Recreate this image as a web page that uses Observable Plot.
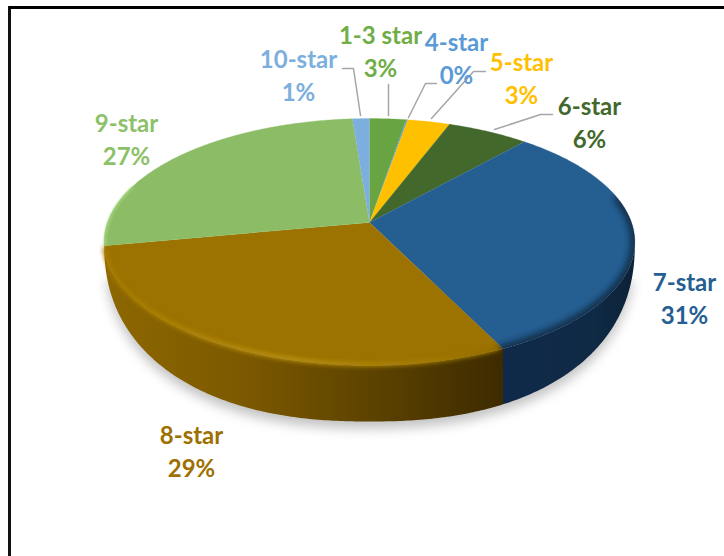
<!DOCTYPE html>
<html>
<head>
<meta charset="utf-8">
<style>html,body{margin:0;padding:0;background:#fff}svg{display:block}</style>
<script src="https://cdn.jsdelivr.net/npm/d3@7"></script>
<script src="https://cdn.jsdelivr.net/npm/@observablehq/plot@0.6"></script>
</head>
<body>
<script>
// Data
const categories = ["1-3 star", "4-star", "5-star", "6-star", "7-star", "8-star", "9-star", "10-star"];
const shares = [2.6, 0.1, 3.0, 5.8, 31.3, 29.2, 26.8, 1.2];

// Styles and layout
const topColors = ["#68a542", "#5b9bd5", "#ffc000", "#43682b", "#255e91", "#9c7200", "#8cbd66", "#7cafdd"];
const labelColors = ["#6fae47", "#5b9bd5", "#ffc000", "#43682b", "#255e91", "#9e7000", "#8cc168", "#7cafdd"];
const labelX = [380, 456, 521, 589, 684, 191, 126, 298];
const labelY = [36, 43, 63, 107, 283, 436, 124, 60];
const lineGap = 32.5;
const leaders = [
  [[342, 68], [353, 68], [360, 115]],
  [[388, 84], [388, 115]],
  [[436, 83], [425, 83], [408, 117]],
  [[485, 71], [473, 71], [431, 118]],
  [[552, 114], [540, 114], [494, 129]]
];

// Perspective projection of a circular pie
const k = -0.158;
function rimTop(t) {
  const X = Math.sin(t), Y = -Math.cos(t), w = 1 + k * Y;
  return {x: 369 + 262 * X / w, y: 222 + 120.4 * Y / w};
}
// Lower outline of the wall, directly below each rim point
function rimLower(t) {
  const x = rimTop(t).x, n = 2.3;
  const u = Math.min(1, Math.abs(x - 369) / 265.4);
  return {x, y: 241 + 180 * Math.pow(1 - Math.pow(u, n), 1 / n)};
}
// Angles at which the projected rim reaches its right and left extremes
const rightmost = Math.acos(k), leftmost = 2 * Math.PI - rightmost;
const total = d3.sum(shares);
const cum = d3.cumsum(shares);
const slices = categories.map((c, i) => ({
  c, i,
  a0: (i ? cum[i - 1] : 0) / total * 2 * Math.PI,
  a1: cum[i] / total * 2 * Math.PI
}));
const arc = (a0, a1, f) => {
  const n = Math.max(2, Math.ceil((a1 - a0) / 0.01));
  return d3.range(n + 1).map(j => f(a0 + (a1 - a0) * j / n));
};
const topPath = s => [{x: 369, y: 222}, ...arc(s.a0, s.a1, rimTop)];
const band = (a0, a1, lower) => [...arc(a0, a1, rimTop), ...arc(a0, a1, lower).reverse()];
const effect = (id, clip) => (index, scales, values, dims, ctx, next) => {
  const g = next(index, scales, values, dims, ctx);
  g.setAttribute("filter", `url(#${id})`);
  if (clip) g.setAttribute("clip-path", `url(#${clip})`);
  return g;
};
const line = (pts, o) => Plot.line(pts, {x: "x", y: "y", ...o});

const labels = categories.map((c, i) => ({c, i, x: labelX[i], y: labelY[i], pct: Math.round(shares[i]) + "%", color: labelColors[i]}));
const blue = slices[4], brown = slices[5];

const chart = Plot.plot({
  width: 724, height: 556,
  marginTop: 0, marginRight: 0, marginBottom: 0, marginLeft: 0,
  x: {domain: [0, 724], range: [0, 724], axis: null},
  y: {domain: [0, 556], range: [0, 556], axis: null},
  color: {type: "identity"},
  style: {background: "#fff"},
  marks: [
    // frame
    Plot.ruleX([9], {y1: 6, y2: 556, stroke: "#111", strokeWidth: 3}),
    Plot.ruleY([7], {x1: 9, x2: 724, stroke: "#000", strokeWidth: 3}),
    // shadow
    line(arc(rightmost + 0.12, leftmost - 0.12, t => { const p = rimLower(t); return {x: p.x, y: p.y + 7}; }),
      {fill: "#000", fillOpacity: 0.24, stroke: "none", render: effect("b6")}),
    // sides: only the 7-star and 8-star walls face the viewer
    line(band(rightmost, blue.a1, rimLower), {fill: "url(#sideBlue)", stroke: "none"}),
    line(band(brown.a0, leftmost, rimLower), {fill: "url(#sideBrown)", stroke: "none"}),
    // top faces
    ...slices.map(s => line(topPath(s), {fill: topColors[s.i], stroke: topColors[s.i], strokeWidth: 0.3})),
    // bevel: dark on the 7-star rim, bright on the 8-star rim
    line(arc(blue.a0 + 0.65, blue.a1, rimTop),
      {stroke: "#0c2238", strokeOpacity: 0.9, strokeWidth: 8, render: effect("b3", "topClip")}),
    line(arc(brown.a0 + 0.02, brown.a1 - 0.03, t => {
      const p = rimTop(t); return {x: p.x, y: p.y - 1};
    }), {stroke: "url(#bevelBrown)", strokeWidth: 4, render: effect("b2")}),
    line(arc(slices[6].a0 + 0.01, slices[6].a0 + 0.5, t => {
      const p = rimTop(t); return {x: p.x + 1, y: p.y};
    }), {stroke: "#a4d67e", strokeWidth: 2, render: effect("b1")}),
    // leaders
    ...leaders.map(l => Plot.line(l, {x: d => d[0], y: d => d[1], stroke: "#a6a6a6", strokeWidth: 1.5})),
    // labels
    Plot.text(labels, {x: "x", y: "y", text: "c", fill: "color", fontFamily: "Lato", fontWeight: "bold", fontSize: 24}),
    Plot.text(labels, {x: "x", y: d => d.y + lineGap, text: "pct", fill: "color", fontFamily: "Lato", fontWeight: "bold", fontSize: 24})
  ]
});

const defs = d3.create("svg:defs");
const grad = (id, x1, x2, stops) => {
  const g = defs.append("linearGradient").attr("id", id).attr("gradientUnits", "userSpaceOnUse")
    .attr("x1", x1).attr("x2", x2).attr("y1", 0).attr("y2", 0);
  stops.forEach(([o, c]) => g.append("stop").attr("offset", o).attr("stop-color", c));
};
grad("sideBrown", 105, 502, [[0, "#8d6700"], [0.35, "#7c5900"], [0.65, "#5f4400"], [1, "#3d2b00"]]);
grad("sideBlue", 502, 632, [[0, "#10294a"], [0.7, "#0f2a45"], [1, "#0c2238"]]);
grad("bevelBrown", 110, 502, [[0, "#a87c00"], [0.45, "#bb9412"], [0.8, "#a47d08"], [1, "#8f6a00"]]);
[["b1", 1], ["b2", 2.2], ["b3", 3], ["b6", 6]].forEach(([id, sd]) => {
  defs.append("filter").attr("id", id).attr("x", "-20%").attr("y", "-20%").attr("width", "140%").attr("height", "140%")
    .append("feGaussianBlur").attr("stdDeviation", sd);
});
defs.append("clipPath").attr("id", "topClip").append("path")
  .attr("d", d3.line().x(d => d.x).y(d => d.y)(arc(0, 2 * Math.PI, rimTop)) + "Z");
chart.insertBefore(defs.node(), chart.firstChild);
document.body.append(chart);
</script>
</body>
</html>
